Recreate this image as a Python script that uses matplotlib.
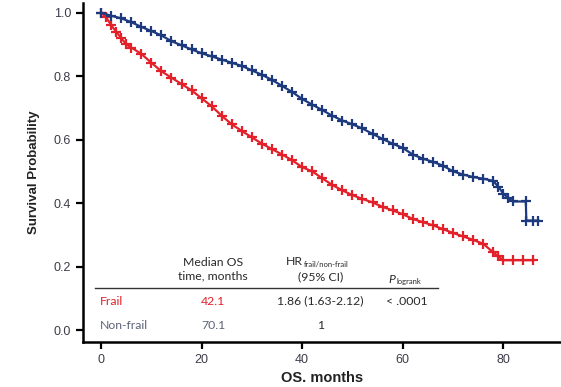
import matplotlib
matplotlib.use('Agg')
import matplotlib.pyplot as plt
import numpy as np

# Kaplan-Meier curves (months, survival probability)
frail_t = [0, 1, 2, 3, 4, 5, 6, 8, 10, 12, 14, 16, 18, 20, 22, 24, 26, 28, 30,
           32, 34, 36, 38, 40, 42, 44, 46, 48, 50, 52, 54, 56, 58, 60, 62, 64,
           66, 68, 70, 72, 74, 76, 78, 79, 80, 82, 84, 86]
frail_s = [1.0, 0.985, 0.96, 0.94, 0.92, 0.90, 0.89, 0.87, 0.842, 0.815, 0.795,
           0.775, 0.755, 0.73, 0.705, 0.675, 0.648, 0.627, 0.607, 0.587, 0.57,
           0.553, 0.535, 0.513, 0.50, 0.478, 0.457, 0.44, 0.425, 0.413, 0.402,
           0.388, 0.377, 0.365, 0.35, 0.34, 0.33, 0.318, 0.306, 0.295, 0.284,
           0.272, 0.245, 0.232, 0.22, 0.22, 0.22, 0.22]

nonfrail_t = [0, 2, 4, 6, 8, 10, 12, 14, 16, 18, 20, 22, 24, 26, 28, 30, 32, 34,
              36, 38, 40, 42, 44, 46, 48, 50, 52, 54, 56, 58, 60, 62, 64, 66,
              68, 70, 72, 74, 76, 78, 79, 80, 81, 82, 84.5, 84.6, 86, 87]
nonfrail_s = [1.0, 0.99, 0.982, 0.97, 0.955, 0.942, 0.928, 0.91, 0.897, 0.884,
              0.872, 0.862, 0.852, 0.842, 0.832, 0.818, 0.804, 0.788, 0.769,
              0.75, 0.728, 0.71, 0.693, 0.675, 0.66, 0.648, 0.635, 0.618,
              0.602, 0.587, 0.574, 0.553, 0.54, 0.53, 0.518, 0.50, 0.49,
              0.482, 0.477, 0.47, 0.452, 0.43, 0.415, 0.405, 0.405, 0.345,
              0.345, 0.345]

# table contents
col_headers = ["Median OS\ntime, months", "(95% CI)"]
row_names = ["Frail", "Non-frail"]
median_os = ["42.1", "70.1"]
hr_values = ["1.86 (1.63-2.12)", "1"]
p_values = ["< .0001", ""]

RED = '#e2212b'
BLUE = '#1d3a7e'
SLATE = '#5d6478'
DARK = '#2a2a2a'

fig = plt.figure(figsize=(5.61, 3.87), dpi=100)
ax = fig.add_axes([0.148, 0.116, 0.852, 0.876])

ax.plot(frail_t, frail_s, color=RED, linewidth=1.6, marker='+',
        markersize=7, markeredgewidth=1.6, zorder=3)
ax.plot(nonfrail_t, nonfrail_s, color=BLUE, linewidth=1.6, marker='+',
        markersize=7, markeredgewidth=1.6, zorder=3)

ax.set_xlim(-3.6, 91.5)
ax.set_ylim(-0.038, 1.03)
ax.set_xticks([0, 20, 40, 60, 80])
ax.set_yticks([0.0, 0.2, 0.4, 0.6, 0.8, 1.0])
ax.set_yticklabels(['0.0', '0.2', '0.4', '0.6', '0.8', '1.0'])

for s in ['top', 'right']:
    ax.spines[s].set_visible(False)
for s in ['left', 'bottom']:
    ax.spines[s].set_linewidth(1.8)
ax.tick_params(direction='out', length=5, width=1.6, labelsize=9,
               labelcolor='#3c3c4a', colors='black')
for lab in ax.get_xticklabels() + ax.get_yticklabels():
    lab.set_family('Liberation Sans')
    lab.set_color('#3c3c4a')

ax.set_xlabel("OS. months", fontsize=10.5, fontweight='bold',
              family='Liberation Sans', color='#222222', labelpad=4)
ax.set_ylabel("Survival Probability", fontsize=9.5, fontweight='bold',
              family='Liberation Sans', color='#222222', labelpad=10)

# inset table
tf = 'Lato'
fs = 8.8
ax.text(22.3, 0.192, col_headers[0], ha='center', va='center', fontsize=fs,
        family=tf, color=DARK, linespacing=1.3)
ax.text(40.2, 0.216, "HR", ha='right', va='center', fontsize=fs,
        family=tf, color=DARK)
ax.text(40.3, 0.207, "frail/non-frail", ha='left', va='center', fontsize=5.5,
        family=tf, color=DARK)
ax.text(43.6, 0.167, col_headers[1], ha='center', va='center', fontsize=fs,
        family=tf, color=DARK)
ax.text(58.5, 0.160, "P", ha='right', va='center', fontsize=fs,
        family=tf, style='italic', color=DARK)
ax.text(58.7, 0.153, "logrank", ha='left', va='center', fontsize=5.5,
        family=tf, color=DARK)
ax.plot([-1.2, 67.1], [0.132, 0.132], color='#333333', linewidth=1.0)

row_y = [0.091, 0.013]
row_colors = [RED, SLATE]
num_colors = [RED, SLATE]
for i in range(2):
    ax.text(-0.2, row_y[i], row_names[i], ha='left', va='center', fontsize=fs,
            family=tf, color=row_colors[i])
    ax.text(22.3, row_y[i], median_os[i], ha='center', va='center',
            fontsize=fs, family=tf, color=num_colors[i])
    ax.text(43.6, row_y[i], hr_values[i], ha='center', va='center',
            fontsize=fs, family=tf, color=DARK)
    ax.text(60.9, row_y[i], p_values[i], ha='center', va='center',
            fontsize=fs, family=tf, color=DARK)

plt.savefig('out.png', dpi=100)
